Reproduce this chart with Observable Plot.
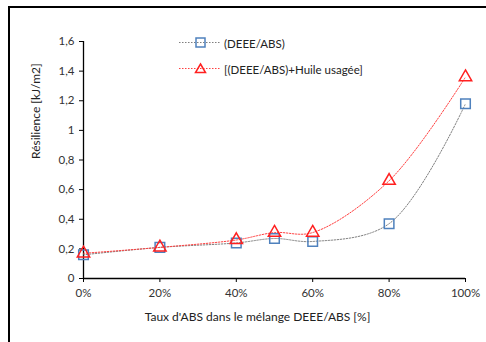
<!DOCTYPE html>
<html>
<head>
<meta charset="utf-8">
<script src="https://cdn.jsdelivr.net/npm/d3@7"></script>
<script src="https://cdn.jsdelivr.net/npm/@observablehq/plot@0.6"></script>
<style>
  html, body { margin: 0; padding: 0; background: #fff; }
  #wrap { position: relative; width: 486px; height: 342px; overflow: hidden; font-family: Lato, "Open Sans", sans-serif; }
  #border { position: absolute; left: 8px; top: 6px; right: -10px; bottom: -10px; border-top: 2.5px solid #000; border-left: 2.5px solid #000; }
  #legend { position: absolute; left: 179px; top: 33px; font-size: 11.5px; color: #222; }
  .item { display: flex; align-items: center; height: 20px; margin-bottom: 6px; }
  .item svg { margin-right: 3px; }
</style>
</head>
<body>
<div id="wrap">
  <div id="border"></div>
  <div id="chart"></div>
  <div id="legend"></div>
</div>
<script>
const taux = [0, 20, 40, 50, 60, 80, 100];
const deeeAbs = [0.16, 0.21, 0.24, 0.27, 0.25, 0.37, 1.18];
const deeeAbsHuile = [0.17, 0.21, 0.26, 0.31, 0.31, 0.66, 1.36];
const xTicks = [0, 20, 40, 60, 80, 100];
const yTicks = [0, 0.2, 0.4, 0.6, 0.8, 1, 1.2, 1.4, 1.6];
const seriesNames = ["(DEEE/ABS)", "[(DEEE/ABS)+Huile usagée]"];
const xLabel = "Taux d'ABS dans le mélange DEEE/ABS [%]";
const yLabel = "Résilience [kJ/m2]";

const blue = taux.map((t, i) => ({t, v: deeeAbs[i]}));
const red = taux.map((t, i) => ({t, v: deeeAbsHuile[i]}));

const fmtY = d => String(+d.toFixed(1)).replace(".", ",");

const chart = Plot.plot({
  width: 486,
  height: 342,
  marginLeft: 83,
  marginRight: 21,
  marginTop: 41,
  marginBottom: 64,
  style: {fontFamily: "Lato, 'Open Sans', sans-serif", fontSize: "11.5px", color: "#333", background: "transparent"},
  x: {domain: [0, 100]},
  y: {domain: [0, 1.6]},
  marks: [
    Plot.axisX({ticks: xTicks, tickFormat: d => d + "%", tickSize: 4, tickPadding: 6, label: null, stroke: "#000", fill: "#333"}),
    Plot.axisY({ticks: yTicks, tickFormat: fmtY, tickSize: 4, tickPadding: 5, label: null, stroke: "#000", fill: "#333"}),
    Plot.ruleX([0], {stroke: "#000", strokeWidth: 1.3}),
    Plot.ruleY([0], {stroke: "#000", strokeWidth: 1.3}),
    Plot.line(blue, {x: "t", y: "v", curve: "catmull-rom", stroke: "#7f7f7f", strokeWidth: 1, strokeDasharray: "1.5,1.5"}),
    Plot.line(red, {x: "t", y: "v", curve: "catmull-rom", stroke: "#ff4040", strokeWidth: 1, strokeDasharray: "1.5,1.5"}),
    Plot.dot(blue, {x: "t", y: "v", symbol: "square", r: 5.4, stroke: "#4f81bd", strokeWidth: 1.5, fill: "none"}),
    Plot.dot(red, {x: "t", y: "v", symbol: "triangle", r: 4.6, stroke: "#ff2020", strokeWidth: 1.5, fill: "none"}),
    Plot.text([xLabel], {frameAnchor: "bottom", dy: 42, dx: -17, fontSize: 12, fill: "#222"}),
    Plot.text([yLabel], {frameAnchor: "left", rotate: -90, dx: -47, dy: -1, fontSize: 12, fill: "#222"})
  ]
});
document.getElementById("chart").appendChild(chart);

const legend = document.getElementById("legend");
const sw = [
  {stroke: "#7f7f7f", mark: '<rect x="17" y="5" width="9" height="9" fill="none" stroke="#4f81bd" stroke-width="1.5"/>'},
  {stroke: "#ff4040", mark: '<path d="M21.5,5 L26.5,13.5 L16.5,13.5 Z" fill="none" stroke="#ff2020" stroke-width="1.5"/>'}
];
seriesNames.forEach((name, i) => {
  const div = document.createElement("div");
  div.className = "item";
  div.innerHTML = `<svg width="42" height="20"><line x1="0" x2="42" y1="9.5" y2="9.5" stroke="${sw[i].stroke}" stroke-width="1" stroke-dasharray="1.5,1.5"/>${sw[i].mark}</svg><span>${name}</span>`;
  legend.appendChild(div);
});
</script>
</body>
</html>
